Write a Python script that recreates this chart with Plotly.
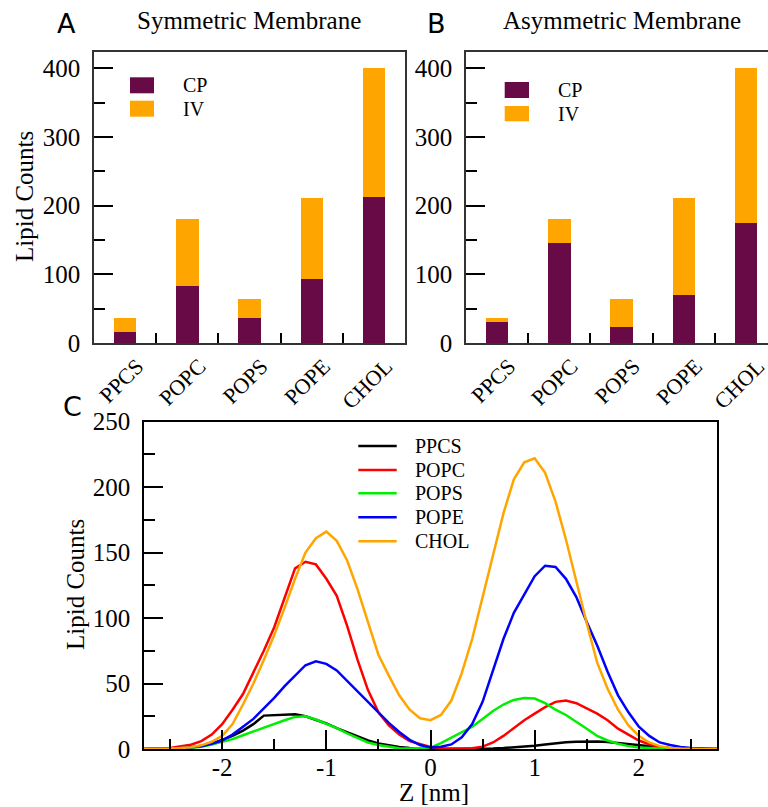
import plotly.graph_objects as go

# ---------------- data ----------------
lipids = ["PPCS", "POPC", "POPS", "POPE", "CHOL"]
sym_cp = [16, 83, 36, 93, 213]
sym_iv = [20, 98, 28, 118, 187]
asym_cp = [30, 145, 23, 70, 175]
asym_iv = [6, 36, 41, 141, 225]

z_nm = [-2.75, -2.7, -2.6, -2.5, -2.4, -2.3, -2.2, -2.1, -2.0, -1.9, -1.8, -1.7, -1.6, -1.5,
        -1.4, -1.3, -1.2, -1.1, -1.0, -0.9, -0.8, -0.7, -0.6, -0.5, -0.4, -0.3, -0.2,
        -0.1, 0.0, 0.1, 0.2, 0.3, 0.4, 0.5, 0.6, 0.7, 0.8, 0.9, 1.0, 1.1, 1.2, 1.3,
        1.4, 1.5, 1.6, 1.7, 1.8, 1.9, 2.0, 2.1, 2.2, 2.3, 2.4, 2.5, 2.6, 2.7, 2.75]

ppcs = [0, 0, 0.2, 0.5, 0.8, 1.2, 2.2, 4, 7, 10, 14, 19, 25.5, 26, 26.5, 26.5, 25, 22.5,
        19.5, 16, 13, 9.5, 6.5, 4.3, 2.8, 1.5, 0.7, 0.3, 0, 0, 0, 0, 0, 0.1, 0.3, 0.7,
        1.2, 1.8, 2.5, 3.5, 4.5, 5.2, 5.6, 5.8, 5.8, 5.4, 4.6, 3.7, 3, 2, 1.2, 0.5, 0.2,
        0, 0, 0, 0]
popc = [0, 0, 0.3, 0.8, 2, 3.3, 6, 11, 19, 30, 42, 58, 75, 93, 115, 138, 143, 141, 130,
        117, 94, 68, 45, 28, 18, 11, 6, 3.5, 1.5, 0.4, 0.3, 0.3, 0.6, 1.8, 5, 10, 16,
        22, 27, 32, 36, 37, 35, 31, 27, 22, 15.5, 11, 6.5, 3.5, 1.5, 0.5, 0.2, 0, 0, 0, 0]
pops = [0, 0, 0, 0.2, 0.5, 1, 1.8, 3.5, 5.5, 7.5, 10.5, 13.5, 16.5, 19.5, 22, 24.5, 25,
        22.5, 19.5, 16, 12, 8.5, 5, 3, 1.5, 0.5, 0.3, 0.5, 1, 4.5, 8.5, 12.5, 17, 23, 29,
        34, 37.5, 39, 38.5, 35, 30, 26, 21, 15.5, 10, 6.5, 4, 2.2, 1.2, 0.6, 0.3, 0, 0,
        0, 0, 0, 0]
pope = [0, 0, 0, 0.3, 0.6, 1.1, 2, 4, 6.5, 11, 17, 23, 31, 39, 48, 56, 64, 67, 65, 60,
        52, 44, 36, 28, 20, 13, 7, 3, 1.2, 1.8, 3.5, 9, 19, 36, 60, 84, 104, 118, 132,
        140, 139, 130, 116, 97, 79, 59, 41, 28, 17, 10, 5, 3, 1.5, 0.7, 0.3, 0, 0]
chol = [0, 0, 0, 0.3, 0.7, 1.4, 2.8, 5.5, 10, 19, 34, 50, 68, 87, 108, 130, 150, 161,
        166, 159, 144, 122, 97, 72, 56, 41, 30, 23.5, 22, 26, 37, 58, 84, 115, 148, 180,
        206, 219, 222, 211, 189, 160, 127, 96, 66, 46, 30, 18, 10, 5, 2.2, 0.8, 0.3, 0,
        0, 0, 0]

curve_names = ["PPCS", "POPC", "POPS", "POPE", "CHOL"]
curve_values = [ppcs, popc, pops, pope, chol]
curve_colors = ["#000000", "#ff0000", "#00ee00", "#0000ff", "#ffa500"]

CP_COLOR = "#670a46"
IV_COLOR = "#ffa500"

W, H = 768, 807
SERIF = "Liberation Serif"
SANS = "DejaVu Sans"


def px(x):
    return x / W


def py(y):
    return 1 - y / H


fig = go.Figure()

# ---------------- bars ----------------
for cp, iv, xa, ya in [(sym_cp, sym_iv, "x", "y"), (asym_cp, asym_iv, "x2", "y2")]:
    fig.add_trace(go.Bar(x=lipids, y=cp, name="CP", marker_color=CP_COLOR,
                         marker_line_width=0, width=0.36, xaxis=xa, yaxis=ya,
                         showlegend=False))
    fig.add_trace(go.Bar(x=lipids, y=iv, name="IV", marker_color=IV_COLOR,
                         marker_line_width=0, width=0.36, xaxis=xa, yaxis=ya,
                         showlegend=False))

# ---------------- lines ----------------
for name, vals, col in zip(curve_names, curve_values, curve_colors):
    fig.add_trace(go.Scatter(x=z_nm, y=vals, mode="lines", name=name,
                             line=dict(color=col, width=2.5), xaxis="x3", yaxis="y3",
                             showlegend=False))

AX_COL = "#333333"
bar_x_common = dict(type="category", categoryarray=lipids, tickangle=-45,
                    tickfont=dict(family=SERIF, size=22, color="black"),
                    ticks="inside", tickson="boundaries", ticklen=10, tickwidth=1.5,
                    tickcolor="black", showline=True, linecolor=AX_COL, linewidth=1.5,
                    showgrid=False, zeroline=False, ticklabelstandoff=0,
                    ticklabelshift=12, automargin=False)
bar_y_common = dict(range=[0, 424], tickvals=[0, 100, 200, 300, 400],
                    tickfont=dict(family=SERIF, size=25, color="black"),
                    ticks="inside", ticklen=19, tickwidth=1.5, tickcolor="black",
                    minor=dict(tickvals=[50, 150, 250, 350], ticks="inside", ticklen=11,
                               tickwidth=1.5, tickcolor="black"),
                    showline=True, linecolor=AX_COL, linewidth=1.5, showgrid=False,
                    zeroline=False, ticklabelstandoff=7, automargin=False)

fig.update_layout(
    template="none",
    width=W, height=H, margin=dict(l=0, r=0, t=0, b=0, pad=0, autoexpand=False),
    font=dict(family=SERIF, color="black"),
    paper_bgcolor="white", plot_bgcolor="white", barmode="stack", showlegend=False,
    xaxis=dict(domain=[px(94), px(405)], anchor="y", range=[-0.5, 4.5], mirror=True,
               **bar_x_common),
    yaxis=dict(domain=[py(343), py(52)], anchor="x", mirror=True, **bar_y_common),
    xaxis2=dict(domain=[px(466), 1.0], anchor="y2", range=[-0.5, 4.355], mirror=True,
                **bar_x_common),
    yaxis2=dict(domain=[py(343), py(52)], anchor="x2", mirror=False, **bar_y_common),
    xaxis3=dict(domain=[px(144), px(717)], anchor="y3", range=[-2.75, 2.75],
                tickvals=[-2, -1, 0, 1, 2], ticktext=["-2", "-1", "0", "1", "2"],
                tickfont=dict(family=SERIF, size=25, color="black"),
                ticks="inside", ticklen=19, tickwidth=1.5, tickcolor="black",
                minor=dict(tickvals=[-2.5, -1.5, -0.5, 0.5, 1.5, 2.5], ticks="inside",
                           ticklen=10, tickwidth=1.5, tickcolor="black"),
                showline=True, mirror=True, linecolor="black", linewidth=1.5,
                showgrid=False, zeroline=False, ticklabelstandoff=-5, automargin=False),
    yaxis3=dict(domain=[py(749), py(421.7)], anchor="x3", range=[0, 250],
                tickvals=[0, 50, 100, 150, 200, 250],
                tickfont=dict(family=SERIF, size=25, color="black"),
                ticks="inside", ticklen=19, tickwidth=1.5, tickcolor="black",
                minor=dict(tickvals=[25, 75, 125, 175, 225], ticks="inside", ticklen=11,
                           tickwidth=1.5, tickcolor="black"),
                showline=True, mirror=True, linecolor="black", linewidth=1.5,
                showgrid=False, zeroline=False, ticklabelstandoff=7, automargin=False),
)

annotations = []
shapes = []


def text(x, y, s, size, family=SERIF, angle=0, xanchor="center"):
    annotations.append(dict(x=px(x), y=py(y), xref="paper", yref="paper", text=s,
                            showarrow=False, xanchor=xanchor, yanchor="middle",
                            textangle=angle,
                            font=dict(family=family, size=size, color="black")))


# panel labels and titles
text(66, 24, "A", 27, SANS)
text(436, 24, "B", 27, SANS)
text(72, 406, "C", 27, SANS)
text(249, 21, "Symmetric Membrane", 25)
text(622, 21, "Asymmetric Membrane", 25)
text(25, 197, "Lipid Counts", 25, angle=-90)
text(75, 585, "Lipid Counts", 25, angle=-90)
text(434, 792, "Z [nm]", 25)

# bar legends
for (sx0, sx1, tx, rows) in [
    (130, 154, 181, [(77.3, 93.3, "CP", CP_COLOR), (100.7, 116.7, "IV", IV_COLOR)]),
    (504.7, 529, 556, [(82, 98, "CP", CP_COLOR), (106, 121.3, "IV", IV_COLOR)]),
]:
    for (y0, y1, lab, col) in rows:
        shapes.append(dict(type="rect", xref="paper", yref="paper", x0=px(sx0),
                           x1=px(sx1), y0=py(y1), y1=py(y0), fillcolor=col,
                           line=dict(width=0)))
        text(tx, (y0 + y1) / 2, lab, 20, xanchor="left")

# line legend
leg_y = [446, 470, 493.3, 517.3, 541.3]
for name, col, yy in zip(curve_names, curve_colors, leg_y):
    shapes.append(dict(type="line", xref="paper", yref="paper", x0=px(358.3),
                       x1=px(396.7), y0=py(yy), y1=py(yy),
                       line=dict(color=col, width=2.5)))
    text(413, yy, name, 20, xanchor="left")

fig.update_layout(annotations=annotations, shapes=shapes)

fig.write_html("out.html")
